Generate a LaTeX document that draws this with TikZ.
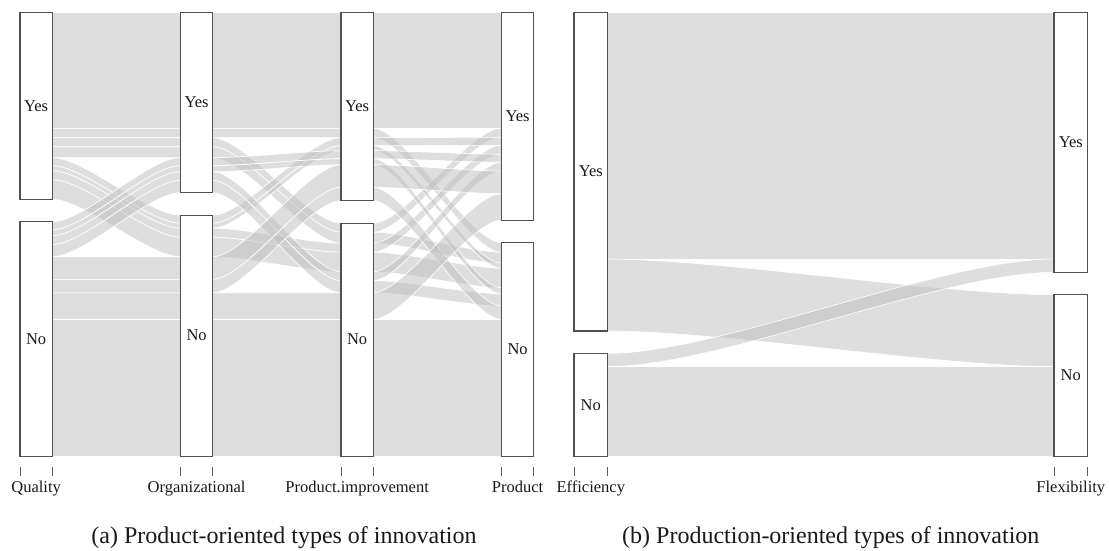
\documentclass[tikz,border=0pt]{standalone}
\usepackage{fontspec}
\setmainfont{Liberation Serif}
\definecolor{bandgray}{RGB}{190,190,190}
\definecolor{boxc}{RGB}{80,80,80}
\definecolor{tickc}{RGB}{90,90,90}
\definecolor{txt}{RGB}{25,25,25}
\newcommand\labfont{\fontsize{16.5}{19}\selectfont}
\newcommand\capfont{\fontsize{24}{28}\selectfont}
% left panel alluvium: top/bottom on Quality, Organizational, Product.improvement, Product
\newcommand\alluvL[8]{%
 \path[band] (52.2,#1) .. controls (84.3,#1) and (148.4,#3) .. (180.5,#3) -- (212.7,#3)
   .. controls (244.8,#3) and (308.9,#5) .. (341,#5) -- (373.2,#5)
   .. controls (405.3,#5) and (469.4,#7) .. (501.5,#7) -- (501.5,#8)
   .. controls (469.4,#8) and (405.3,#6) .. (373.2,#6) -- (341,#6)
   .. controls (308.9,#6) and (244.8,#4) .. (212.7,#4) -- (180.5,#4)
   .. controls (148.4,#4) and (84.3,#2) .. (52.2,#2) -- cycle;}
% right panel alluvium: top/bottom on Efficiency, Flexibility
\newcommand\alluvR[4]{%
 \path[band] (607.6,#1) .. controls (719.2,#1) and (942.4,#3) .. (1054,#3) -- (1054,#4)
   .. controls (942.4,#4) and (719.2,#2) .. (607.6,#2) -- cycle;}
\tikzset{
  band/.style={fill=bandgray, fill opacity=0.5, draw=white, line width=0.6pt},
  catbox/.style={draw=boxc, fill=white, line width=1.2pt, inner sep=0pt, outer sep=0pt,
    anchor=north west, font=\labfont, text=txt},
  lbox/.style={catbox, minimum width=32.2pt},
  rbox/.style={catbox, minimum width=33.6pt},
  tickmark/.style={draw=tickc, line width=0.9pt},
  axlab/.style={anchor=base, font=\labfont, text=txt, inner sep=0pt},
  caption/.style={anchor=base, font=\capfont, text=txt, inner sep=0pt}
}
\begin{document}
\begin{tikzpicture}[x=1pt,y=-1pt]
\useasboundingbox (0,0) rectangle (1109,551);
% ---------------- panel (a): alluvia ----------------
\alluvL{12.3}{128.3}{12.3}{128.3}{12.3}{128.3}{12.3}{128.3}     % YYYY
\alluvL{128.3}{137.7}{128.3}{137.7}{128.3}{137.7}{242.8}{252.2} % YYYN
\alluvL{137.7}{146.7}{137.7}{146.7}{223.2}{232.2}{128.3}{137.3} % YYNY
\alluvL{146.7}{157.7}{146.7}{157.7}{232.2}{243.2}{252.2}{263.2} % YYNN
\alluvL{157.7}{165.7}{215.2}{223.2}{137.7}{145.7}{137.3}{145.3} % YNYY
\alluvL{165.7}{170.7}{223.2}{228.2}{145.7}{150.7}{263.2}{268.2} % YNYN
\alluvL{170.7}{179.7}{228.2}{237.2}{243.2}{252.2}{145.3}{154.3} % YNNY
\alluvL{179.7}{199.3}{237.2}{256.8}{252.2}{271.8}{268.2}{287.8} % YNNN
\alluvL{221.8}{229.8}{157.7}{165.7}{150.7}{158.7}{154.3}{162.3} % NYYY
\alluvL{229.8}{235.8}{165.7}{171.7}{158.7}{164.7}{287.8}{293.8} % NYYN
\alluvL{235.8}{244.6}{171.7}{180.5}{271.8}{280.6}{162.3}{171.1} % NYNY
\alluvL{244.6}{256.8}{180.5}{192.7}{280.6}{292.8}{293.8}{306}   % NYNN
\alluvL{256.8}{279.4}{256.8}{279.4}{164.7}{187.3}{171.1}{193.7} % NNYY
\alluvL{279.4}{292.8}{279.4}{292.8}{187.3}{200.7}{306}{319.4}   % NNYN
\alluvL{292.8}{319.4}{292.8}{319.4}{292.8}{319.4}{193.7}{220.3} % NNNY
\alluvL{319.4}{456.1}{319.4}{456.1}{319.4}{456.1}{319.4}{456.1} % NNNN
% ---------------- panel (a): boxes ----------------
\node[lbox, minimum height=187pt]   (qy) at (20,12.3)    {Yes};
\node[lbox, minimum height=234.3pt] (qn) at (20,221.8)   {No};
\node[lbox, minimum height=180.4pt] (oy) at (180.5,12.3) {Yes};
\node[lbox, minimum height=240.9pt] (on) at (180.5,215.2){No};
\node[lbox, minimum height=188.4pt] (iy) at (341,12.3)   {Yes};
\node[lbox, minimum height=232.9pt] (in) at (341,223.2)  {No};
\node[lbox, minimum height=208pt]   (py) at (501.5,12.3) {Yes};
\node[lbox, minimum height=213.3pt] (pn) at (501.5,242.8){No};
% ticks and axis labels
\foreach \xx in {20,52.2,180.5,212.7,341,373.2,501.5,533.7,574,607.6,1054,1087.6}
  \draw[tickmark] (\xx,466.7) -- (\xx,476);
\node[axlab] (lq) at (36.1,492.7)  {Quality};
\node[axlab] (lo) at (196.6,492.7) {Organizational};
\node[axlab] (li) at (357.1,492.7) {Product.improvement};
\node[axlab] (lp) at (517.6,492.7) {Product};
% ---------------- panel (b): alluvia ----------------
\alluvR{12.3}{259}{12.3}{259}       % YY
\alluvR{259}{331}{294.7}{366.7}     % YN
\alluvR{353.4}{366.7}{259}{272.3}   % NY
\alluvR{366.7}{456.1}{366.7}{456.1} % NN
% ---------------- panel (b): boxes ----------------
\node[rbox, minimum height=318.7pt] (ey) at (574,12.3)   {Yes};
\node[rbox, minimum height=102.7pt] (en) at (574,353.4)  {No};
\node[rbox, minimum height=260pt]   (fy) at (1054,12.3)  {Yes};
\node[rbox, minimum height=161.4pt] (fn) at (1054,294.7) {No};
\node[axlab] (le) at (590.8,492.7)  {Efficiency};
\node[axlab] (lf) at (1070.8,492.7) {Flexibility};
% captions
\node[caption] (capa) at (284,543)   {(a) Product-oriented types of innovation};
\node[caption] (capb) at (830.8,543) {(b) Production-oriented types of innovation};
\end{tikzpicture}
\end{document}
